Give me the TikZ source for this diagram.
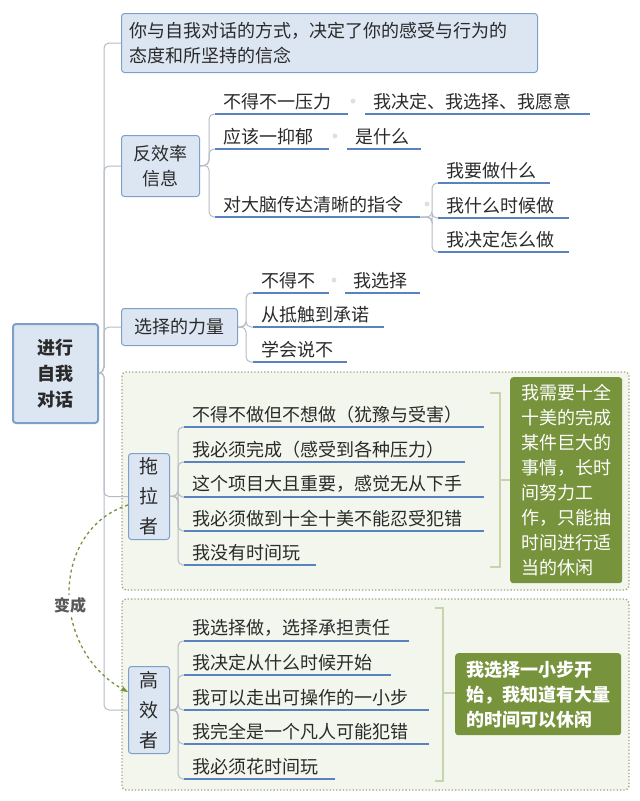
\documentclass[tikz,border=0pt]{standalone}
\usepackage{fontspec}
\setmainfont{Noto Sans CJK SC}
\usetikzlibrary{arrows.meta}
\definecolor{boxfill}{HTML}{DCE6F2}
\definecolor{boxline}{HTML}{7F9FCB}
\definecolor{uline}{HTML}{5B82C0}
\definecolor{trunk}{HTML}{B4BCC4}
\definecolor{dotfill}{HTML}{F3F6EC}
\definecolor{dotline}{HTML}{9AA57E}
\definecolor{gbox}{HTML}{77933C}
\definecolor{brk}{HTML}{C8D4AC}
\definecolor{txt}{HTML}{2A2A2A}
\begin{document}
\begin{tikzpicture}[x=1pt,y=-1pt,
  every node/.style={text=txt},
  bluebox/.style={draw=boxline,fill=boxfill,rounded corners=3pt,line width=1pt,font=\fontsize{18}{25}\selectfont},
  item/.style={anchor=south west,inner xsep=8pt,inner ysep=4pt,align=left,font=\fontsize{18}{22}\selectfont},
  ul/.style={draw=uline,line width=1.4pt},
  br/.style={draw=trunk,line width=1pt,rounded corners=5pt},
  dotbox/.style={draw=dotline,fill=dotfill,dotted,line width=1.3pt,rounded corners=4pt},
  greenbox/.style={fill=gbox,rounded corners=3pt,text=white,align=left,font=\fontsize{18}{25}\selectfont},
  bracket/.style={draw=brk,line width=1.6pt},
  dot/.style={circle,fill=black!12,inner sep=0pt,minimum size=5pt}]
\useasboundingbox (0,0) rectangle (640,801);
% green dotted regions
\path[dotbox] (122,372) rectangle (629,590);
\path[dotbox] (122,599) rectangle (629,790);
% root
\node[bluebox,line width=2pt,anchor=north west,minimum width=85pt,minimum height=99pt,align=center,font=\bfseries\fontsize{18}{26}\selectfont] (root) at (12,323) {进行\\自我\\对话};
% level 1
\node[bluebox,anchor=north west,minimum width=416pt,minimum height=59pt,text width=400pt,align=left] (top) at (121,13) {你与自我对话的方式，决定了你的感受与行为的\\态度和所坚持的信念};
\node[bluebox,anchor=north west,minimum width=78pt,minimum height=61pt,align=center] (fx) at (121,135) {反效率\\信息};
\node[bluebox,anchor=north west,minimum width=116pt,minimum height=37pt] (xz) at (121,308) {选择的力量};
\node[bluebox,anchor=north west,minimum width=41pt,minimum height=86pt,align=center,font=\fontsize{19}{30}\selectfont] (tl) at (128,453) {拖\\拉\\者};
\node[bluebox,anchor=north west,minimum width=41pt,minimum height=87pt,align=center,font=\fontsize{19}{30}\selectfont] (gx) at (128,666) {高\\效\\者};
\foreach \n in {top,fx,xz,tl,gx}{\draw[br] (root.east) -- (104,372) |- (\n.west);}
% 反效率 items
\node[item,text width=117pt] (a1) at (215,114) {不得不一压力};
\node[item,text width=209pt] (a1b) at (365,114) {我决定、我选择、我愿意};
\node[item,text width=98pt] (a2) at (215,149) {应该一抑郁};
\node[item,text width=58pt] (a2b) at (347,149) {是什么};
\node[item,text width=189pt] (a3) at (215,217) {对大脑传达清晰的指令};
\node[item,text width=96pt] (a31) at (438,183) {我要做什么};
\node[item,text width=115pt] (a32) at (438,218) {我什么时候做};
\node[item,text width=115pt] (a33) at (438,252) {我决定怎么做};
\node[dot] (d1) at (353,101) {};
\node[dot] (d2) at (335,136) {};
\node[dot] (d3) at (427,204) {};
\node[dot] (d4) at (334,280) {};
% 选择的力量 items
\node[item,text width=60pt] (b1) at (253,293) {不得不};
\node[item,text width=59pt] (b1b) at (345,293) {我选择};
\node[item,text width=115pt] (b2) at (253,327) {从抵触到承诺};
\node[item,text width=78pt] (b3) at (253,362) {学会说不};
% 拖拉者 items
\node[item,text width=284pt] (c1) at (184,427) {不得不做但不想做（犹豫与受害）};
\node[item,text width=265pt] (c2) at (184,462) {我必须完成（感受到各种压力）};
\node[item,text width=284pt] (c3) at (184,497) {这个项目大且重要，感觉无从下手};
\node[item,text width=284pt] (c4) at (184,531) {我必须做到十全十美不能忍受犯错};
\node[item,text width=116pt] (c5) at (184,565) {我没有时间玩};
% 高效者 items
\node[item,text width=209pt] (e1) at (184,641) {我选择做，选择承担责任};
\node[item,text width=191pt] (e2) at (184,675) {我决定从什么时候开始};
\node[item,text width=229pt] (e3) at (184,710) {我可以走出可操作的一小步};
\node[item,text width=229pt] (e4) at (184,744) {我完全是一个凡人可能犯错};
\node[item,text width=135pt] (e5) at (184,779) {我必须花时间玩};
\foreach \n in {a1,a1b,a2,a2b,a3,a31,a32,a33,b1,b1b,b2,b3,c1,c2,c3,c4,c5,e1,e2,e3,e4,e5}{\draw[ul] (\n.south west) -- (\n.south east);}
% branch connectors
\foreach \n in {a1,a2,a3}{\draw[br] (fx.east) -- (209,165) |- (\n.south west);}
\foreach \n in {a31,a32,a33}{\draw[br] (a3.south east) -- (432,217) |- (\n.south west);}
\foreach \n in {b1,b2,b3}{\draw[br] (xz.east) -- (246,327) |- (\n.south west);}
\foreach \n in {c1,c2,c3,c4,c5}{\draw[br] (tl.east) -- (178,496) |- (\n.south west);}
\foreach \n in {e1,e2,e3,e4,e5}{\draw[br] (gx.east) -- (178,710) |- (\n.south west);}
% green summary boxes
\node[greenbox,anchor=north west,minimum width=112pt,minimum height=206pt,inner xsep=6pt] (g1) at (510,377) {我需要十全\\十美的完成\\某件巨大的\\事情，长时\\间努力工\\作，只能抽\\时间进行适\\当的休闲};
\node[greenbox,anchor=north west,minimum width=166pt,minimum height=82pt,inner xsep=6pt,font=\bfseries\fontsize{18}{25}\selectfont] (g2) at (455,653) {我选择一小步开\\始，我知道有大量\\的时间可以休闲};
% brackets
\coordinate (k1) at (500,480);
\draw[bracket] (490,393) -- (500,393) -- (500,567) -- (490,567);
\draw[bracket] (k1) -- (g1.west |- k1);
\coordinate (k2) at (443,693);
\draw[bracket] (435,608) -- (443,608) -- (443,781) -- (435,781);
\draw[bracket] (k2) -- (g2.west |- k2);
% transformation arrow
\draw[draw=gbox,dashed,line width=1.3pt,-{Stealth[length=8pt]}] (tl.west |- 0,505) .. controls (50,530) and (50,650) .. (gx.west |- 0,692);
\node[fill=white,inner sep=2pt,font=\bfseries\fontsize{16}{18}\selectfont,text=black!65] (bc) at (70,605) {变成};
\end{tikzpicture}
\end{document}
